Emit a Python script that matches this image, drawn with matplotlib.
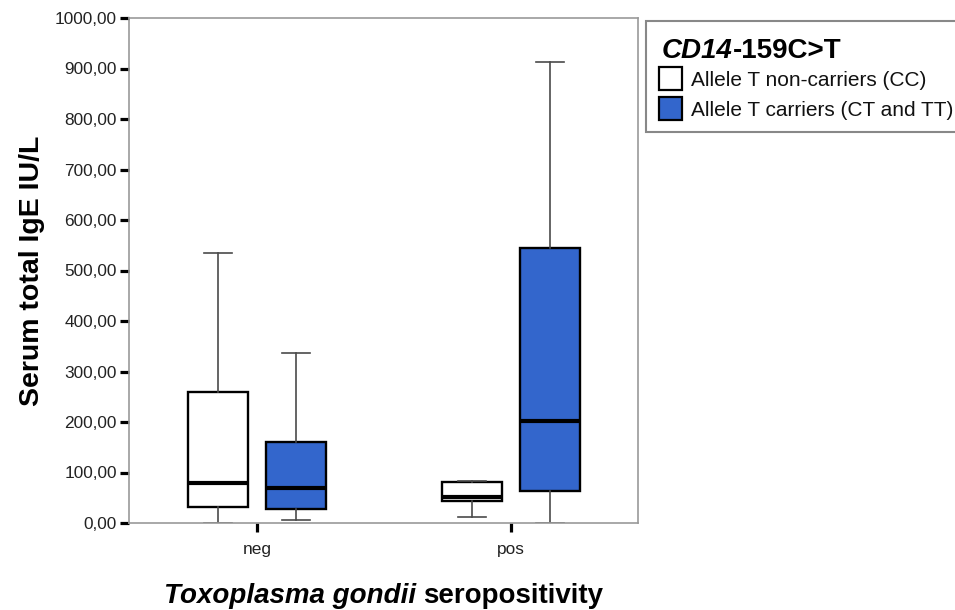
import numpy as np
import matplotlib
matplotlib.use("Agg")
import matplotlib.pyplot as plt
from matplotlib.patches import Rectangle

plt.rcParams['font.family'] = ['Liberation Sans', 'DejaVu Sans']

# data (IU/L)
categories = ['neg', 'pos']
group_labels = ['Allele T non-carriers (CC)', 'Allele T carriers (CT and TT)']
group_colors = ['white', '#3366CC']

# allele T non-carriers (CC)
cc_low = [0, 12]
cc_q1 = [32, 44]
cc_med = [79, 52]
cc_q3 = [259, 81]
cc_high = [535, 84]

# allele T carriers (CT and TT)
ct_low = [5, 0]
ct_q1 = [28, 63]
ct_med = [70, 202]
ct_q3 = [161, 545]
ct_high = [337, 913]

yticks = np.arange(0, 1001, 100)

W, H = 955, 610
fig = plt.figure(figsize=(W / 100, H / 100), dpi=100)
ax = fig.add_axes([129 / W, 1 - 523 / H, (638 - 129) / W, (523 - 18) / H])


def px(x, y):
    return x / W, 1 - y / H


def stats(low, q1, med, q3, high):
    return [dict(whislo=a, q1=b, med=c, q3=d, whishi=e, fliers=[])
            for a, b, c, d, e in zip(low, q1, med, q3, high)]


series = [stats(cc_low, cc_q1, cc_med, cc_q3, cc_high),
          stats(ct_low, ct_q1, ct_med, ct_q3, ct_high)]
offsets = [-0.152, 0.152]
pos = np.arange(len(categories))

for st, off, col in zip(series, offsets, group_colors):
    ax.bxp(st, positions=pos + off, widths=0.236, capwidths=0.11,
           patch_artist=True, showfliers=False, manage_ticks=False,
           boxprops=dict(facecolor=col, edgecolor='black', linewidth=1.7),
           medianprops=dict(color='black', linewidth=3.0),
           whiskerprops=dict(color='#4a4a4a', linewidth=1.2),
           capprops=dict(color='#4a4a4a', linewidth=1.2))

ax.set_xlim(-0.504, 1.5)
ax.set_ylim(0, 1000)
ax.set_yticks(yticks)
ax.set_yticklabels([f"{v:.2f}".replace('.', ',') for v in yticks])
ax.set_xticks(pos)
ax.set_xticklabels(categories)
ax.tick_params(axis='y', length=6.5, width=2.3, color='black', pad=2.2,
               labelsize=12.4, labelcolor='#222222', direction='out')
ax.tick_params(axis='x', length=6.5, width=2.3, color='black', pad=7,
               labelsize=12.4, labelcolor='#222222', direction='out')
for sp in ax.spines.values():
    sp.set_color('#999999')
    sp.set_linewidth(1.2)

ax.set_ylabel('Serum total IgE IU/L', fontsize=20.5, fontweight='bold')
ax.yaxis.set_label_coords((45 - 129) / (638 - 129), 0.5)

fig.canvas.draw()
renderer = fig.canvas.get_renderer()


def mixed_text(x, y, parts, size, ha='left'):
    texts = [fig.text(0, 0, s, fontsize=size, fontweight='bold', fontstyle=st,
                      va='baseline') for s, st in parts]
    widths = [t.get_window_extent(renderer).width for t in texts]
    gap = 0.278 * size * 100 / 72
    total = sum(widths) + gap * (len(texts) - 1)
    x0 = x - total / 2 if ha == 'center' else x
    for t, w in zip(texts, widths):
        t.set_position(px(x0, y))
        x0 += w + gap
    return texts


# x axis label
mixed_text(383.5, 603, [('Toxoplasma gondii', 'italic'),
                        ('seropositivity', 'normal')], 20, ha='center')

# legend
fig.add_artist(Rectangle(px(646, 131.5), (975 - 646) / W, 111 / H,
                         transform=fig.transFigure, facecolor='white',
                         edgecolor='#888888', linewidth=1.5))
t1 = fig.text(*px(662, 58), 'CD14', fontsize=20, fontweight='bold',
              fontstyle='italic', va='baseline')
w1 = t1.get_window_extent(renderer).width
fig.text(*px(662 + w1, 58), '-159C>T', fontsize=20, fontweight='bold',
         va='baseline')
for i, (lab, col) in enumerate(zip(group_labels, group_colors)):
    top = 67 + 30 * i
    fig.add_artist(Rectangle(px(659, top + 23), 23 / W, 23 / H,
                             transform=fig.transFigure, facecolor=col,
                             edgecolor='black', linewidth=1.6))
    fig.text(*px(691, 86 + 30 * i), lab, fontsize=15, va='baseline',
             color='#111111')

fig.savefig('out.png', dpi=100)
